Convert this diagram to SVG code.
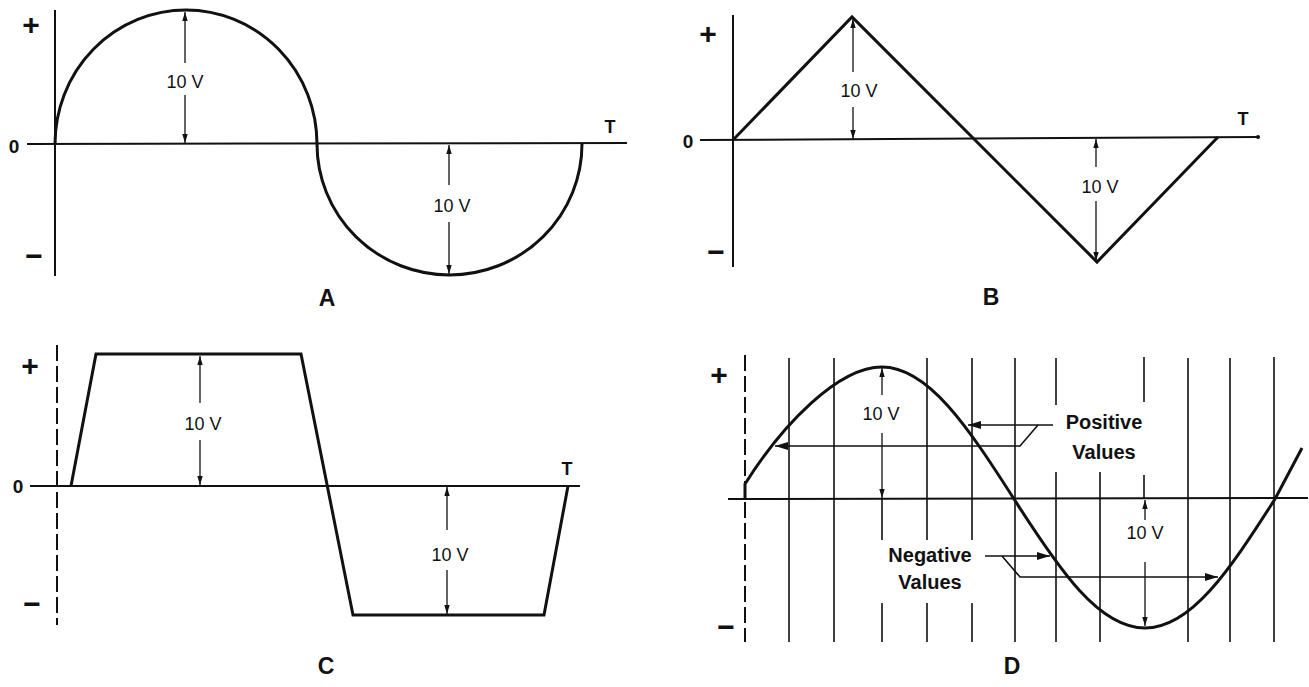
<svg xmlns="http://www.w3.org/2000/svg" width="1309" height="687" viewBox="0 0 1309 687">
<style>
.ax{stroke:#111;stroke-width:2;fill:none}
.wave{stroke:#111;stroke-width:3;fill:none;stroke-linejoin:miter}
.dash{stroke-dasharray:16 5}
.grid{stroke:#111;stroke-width:1.6}
.dim{stroke:#111;stroke-width:1.3;marker-end:url(#ah)}
.lead{stroke:#111;stroke-width:1.6;fill:none}
.leadA{stroke:#111;stroke-width:1.6;fill:none;marker-end:url(#ahL)}
text{font-family:"Liberation Sans",Arial,sans-serif;fill:#111}
.sign{font-size:30px;font-weight:bold;text-anchor:middle}
.zero{font-size:19px;font-weight:bold;text-anchor:middle}
.val{font-size:18px;text-anchor:middle}
.tl{font-size:18px;font-weight:bold;text-anchor:middle}
.cap{font-size:23px;font-weight:bold;text-anchor:middle}
.lbl{font-size:20px;font-weight:bold;text-anchor:middle}
</style>
<defs>
<marker id="ah" viewBox="0 0 10 10" refX="10" refY="5" markerWidth="9" markerHeight="9" markerUnits="userSpaceOnUse" orient="auto"><path d="M0,2 L10,5 L0,8 z" fill="#111"/></marker>
<marker id="ahL" viewBox="0 0 10 10" refX="10" refY="5" markerWidth="13" markerHeight="13" markerUnits="userSpaceOnUse" orient="auto"><path d="M0,2 L10,5 L0,8 z" fill="#111"/></marker>
</defs>
<rect width="1309" height="687" fill="#fff"/>

<g id="panel-a">
<line class="ax" x1="55" y1="10" x2="55" y2="276"/>
<line class="ax" x1="27" y1="144" x2="627" y2="143"/>
<path class="wave" d="M55,144 A131,134 0 0 1 317,144 A132.5,131 0 0 0 582,144"/>
<text class="sign" x="31" y="35">+</text>
<text class="zero" x="14" y="153">0</text>
<text class="sign" x="34" y="266">−</text>
<text class="val" x="185" y="88">10 V</text>
<text class="val" x="452" y="212">10 V</text>
<text class="tl" x="610" y="133">T</text>
<text class="cap" x="327" y="306">A</text>
</g>

<g id="panel-b">
<line class="ax" x1="733" y1="15" x2="733" y2="267"/>
<line class="ax" x1="700" y1="140" x2="1258" y2="137"/>
<circle cx="1258" cy="137" r="2" fill="#111"/>
<path class="wave" d="M733,140 L852,17 L973,138 L1097,262 L1218,137"/>
<text class="sign" x="708" y="44">+</text>
<text class="zero" x="688" y="148">0</text>
<text class="sign" x="716" y="262">−</text>
<text class="val" x="859" y="97">10 V</text>
<text class="val" x="1100" y="193">10 V</text>
<text class="tl" x="1243" y="125">T</text>
<text class="cap" x="991" y="305">B</text>
</g>

<g id="panel-c">
<line class="ax dash" x1="57" y1="345" x2="57" y2="625"/>
<line class="ax" x1="30" y1="486" x2="580" y2="486"/>
<path class="wave" d="M71,486 L96,354 L301,354 L353,615 L544,615 L568,486"/>
<text class="sign" x="30" y="376">+</text>
<text class="zero" x="18" y="493">0</text>
<text class="sign" x="32" y="614">−</text>
<text class="val" x="203" y="430">10 V</text>
<text class="val" x="450" y="561">10 V</text>
<text class="tl" x="567" y="475">T</text>
<text class="cap" x="326" y="674">C</text>
</g>

<g id="panel-d">
<line class="ax dash" x1="745" y1="355" x2="745" y2="642"/>
<line class="ax" x1="728" y1="499" x2="1308" y2="498"/>
<g class="grid">
<line x1="789" y1="358" x2="789" y2="642"/>
<line x1="834" y1="358" x2="834" y2="642"/>
<line x1="882" y1="499" x2="882" y2="540"/>
<line x1="882" y1="603" x2="882" y2="642"/>
<line x1="927" y1="358" x2="927" y2="540"/>
<line x1="927" y1="603" x2="927" y2="642"/>
<line x1="972" y1="358" x2="972" y2="540"/>
<line x1="972" y1="603" x2="972" y2="642"/>
<line x1="1015" y1="358" x2="1015" y2="642"/>
<line x1="1056" y1="358" x2="1056" y2="405"/>
<line x1="1056" y1="472" x2="1056" y2="642"/>
<line x1="1100" y1="472" x2="1100" y2="642"/>
<line x1="1144" y1="357" x2="1144" y2="402"/>
<line x1="1144" y1="475" x2="1144" y2="499"/>
<line x1="1188" y1="358" x2="1188" y2="642"/>
<line x1="1230" y1="358" x2="1230" y2="642"/>
<line x1="1274" y1="357" x2="1274" y2="642"/>
</g>
<path class="wave" d="M745,499 V484 C782,425 838,367 882,367 C928,367 968,427 1014,499 C1060,571 1099,628 1145,628 C1191,628 1229,571 1275,499 L1302,448"/>
<text class="sign" x="719" y="385">+</text>
<text class="sign" x="726" y="637">−</text>
<text class="val" x="881" y="420">10 V</text>
<text class="val" x="1145" y="539">10 V</text>
<text class="lbl" x="1104" y="429">Positive</text>
<text class="lbl" x="1104" y="459">Values</text>
<text class="lbl" x="930" y="562">Negative</text>
<text class="lbl" x="930" y="589">Values</text>
<text class="cap" x="1012" y="674">D</text>
</g>

<g id="connectors">
<line class="dim" x1="185" y1="63" x2="185" y2="12"/>
<line class="dim" x1="185" y1="95" x2="185" y2="143"/>
<line class="dim" x1="449" y1="185" x2="449" y2="145"/>
<line class="dim" x1="449" y1="222" x2="449" y2="274"/>
<line class="dim" x1="853" y1="72" x2="853" y2="19"/>
<line class="dim" x1="853" y1="107" x2="853" y2="139"/>
<line class="dim" x1="1096" y1="167" x2="1096" y2="139"/>
<line class="dim" x1="1096" y1="201" x2="1096" y2="261"/>
<line class="dim" x1="200" y1="403" x2="200" y2="356"/>
<line class="dim" x1="200" y1="440" x2="200" y2="485"/>
<line class="dim" x1="447" y1="530" x2="447" y2="487"/>
<line class="dim" x1="447" y1="570" x2="447" y2="614"/>
<line class="dim" x1="882" y1="395" x2="882" y2="368"/>
<line class="dim" x1="882" y1="433" x2="882" y2="498"/>
<line class="dim" x1="1145" y1="520" x2="1145" y2="500"/>
<line class="dim" x1="1145" y1="562" x2="1145" y2="626"/>
<polyline class="leadA" points="1053,425 968,425"/>
<polyline class="leadA" points="1038,425 1020,446 775,446"/>
<polyline class="leadA" points="985,556 1050,556"/>
<polyline class="leadA" points="1002,556 1020,577 1218,577"/>
</g>
</svg>
